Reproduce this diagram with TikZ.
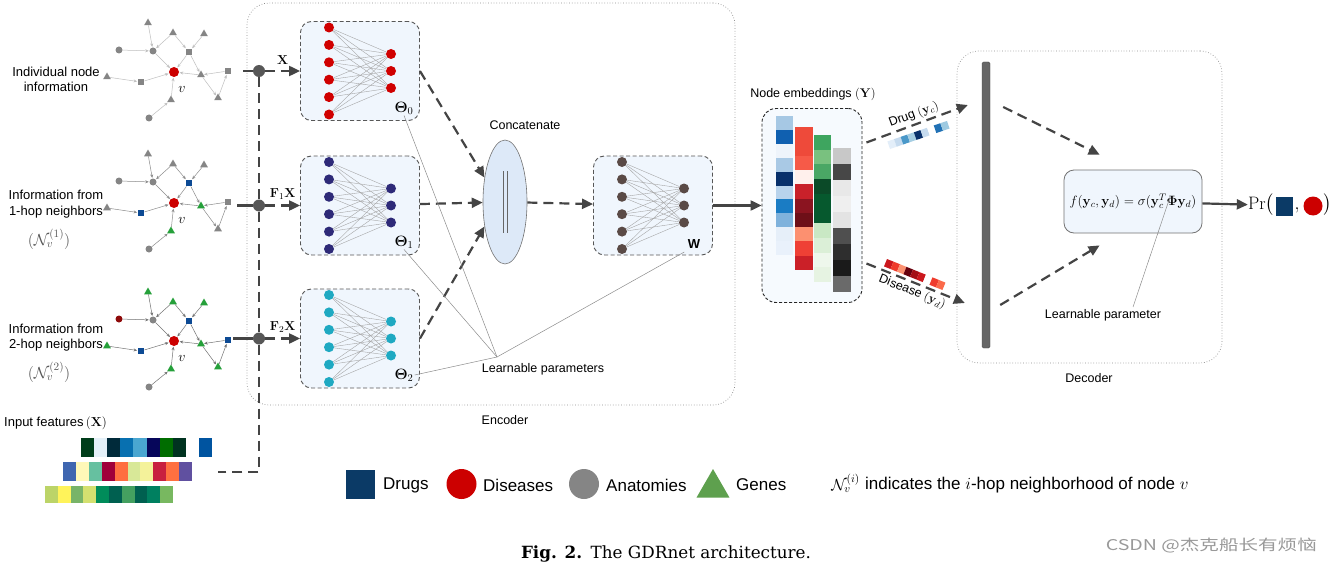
\documentclass[tikz,border=0pt]{standalone}
\usepackage{fix-cm}
\usepackage{amsmath,amssymb,bm}
\usepackage[no-math]{fontspec}
\setmainfont{Liberation Sans}
\newfontfamily\capfont{DejaVu Serif}
\newfontfamily\cjk{Noto Sans CJK SC}
\usetikzlibrary{shapes.geometric,arrows.meta,calc}

% colours
\definecolor{drugblue}{HTML}{0B3A66}
\definecolor{disred}{HTML}{CC0000}
\definecolor{anagray}{HTML}{858585}
\definecolor{genegreen}{HTML}{5EA04E}
\definecolor{flowgray}{HTML}{444444}
\definecolor{boxfill}{HTML}{F0F6FD}
\definecolor{catfill}{HTML}{DDE9F8}
\definecolor{nnred}{HTML}{D00000}
\definecolor{nnnavy}{HTML}{2E2A78}
\definecolor{nncyan}{HTML}{1FA9C2}
\definecolor{nnbrown}{HTML}{5A4A46}
\definecolor{gblue}{HTML}{0D4A94}
\definecolor{ggreen}{HTML}{25A03A}
\definecolor{gdred}{HTML}{8E0A0A}

\tikzset{
  flow/.style={draw=flowgray, line width=2.2pt, dash pattern=on 10pt off 6pt,
    -{Triangle[length=11pt,width=10pt]}},
  sarrow/.style={draw=flowgray, line width=2.2pt, -{Triangle[length=11pt,width=10pt]}},
  fdash/.style={draw=flowgray, line width=2.2pt, dash pattern=on 10pt off 6pt},
  thinline/.style={draw=black!45, line width=0.5pt},
  lab/.style={font=\fontsize{12.5}{15}\selectfont, inner sep=1pt},
  glab/.style={font=\fontsize{13}{15.5}\selectfont, inner sep=1pt, align=center},
  leg/.style={font=\fontsize{17}{20}\selectfont, inner sep=1pt},
  thlab/.style={font=\fontsize{15}{15}\selectfont, inner sep=1pt},
  nnbox/.style={draw=flowgray!90, dash pattern=on 4pt off 2.5pt, line width=0.9pt,
    rounded corners=11pt, fill=boxfill, minimum width=119pt, minimum height=99pt},
  neuron/.style={circle, inner sep=0pt, minimum size=10pt},
  nnedge/.style={draw=black!35, line width=0.4pt},
  container/.style={draw=black!45, dotted, line width=0.7pt, rounded corners=22pt},
  gci/.style={circle, inner sep=0pt, minimum size=7pt},
  gsq/.style={rectangle, inner sep=0pt, minimum size=6.5pt},
  gtri/.style={regular polygon, regular polygon sides=3, inner sep=0pt, minimum size=9pt},
  gedge/.style={line width=0.5pt, -{Stealth[length=3.5pt,width=3pt]}, shorten >=0.5pt},
  dot/.style={circle, fill=flowgray!90, inner sep=0pt, minimum size=12pt}
}

\begin{document}
\begin{tikzpicture}[x=1pt, y=-1pt]
  \useasboundingbox (0,0) rectangle (1332,567);
  \fill[white] (0,0) rectangle (1332,567);

  % encoder and decoder frames
  \node[container, minimum width=488pt, minimum height=402pt] (enc) at (491,204) {};
  \node[lab] (enct) at (505,420) {Encoder};
  \node[container, minimum width=265pt, minimum height=312pt] (dec) at (1089.5,207) {};
  \node[lab] (dect) at (1089,378) {Decoder};

  % the three small graphs
  \foreach \g/\cy/\csq/\ctri/\cout/\csr/\ccl/\ecol in {
      1/72/anagray/anagray/anagray/anagray/anagray/black!25,
      2/203/gblue/ggreen/anagray/anagray/anagray/black!45,
      3/341/gblue/ggreen/ggreen/gblue/gdred/black!55} {
    \begin{scope}[shift={(174,\cy)}]
      \node[gci, fill=disred, minimum size=10pt] (v\g) at (0,0) {};
      \node[font=\fontsize{14}{14}\selectfont] (vl\g) at (8,17) {$v$};
      \node[gtri, fill=\cout] (tl\g) at (-26,-49) {};
      \node[gtri, fill=\cout] (tm\g) at (-1,-39) {};
      \node[gtri, fill=\cout] (tr\g) at (30,-38) {};
      \node[gci, fill=\ccl] (cl\g) at (-55,-22) {};
      \node[gci, fill=anagray] (cu\g) at (-21,-21) {};
      \node[gsq, fill=\csq] (sur\g) at (15,-20) {};
      \node[gtri, fill=\ctri] (trt\g) at (27,3) {};
      \node[gsq, fill=\csr] (sr\g) at (54,-1) {};
      \node[gtri, fill=\cout] (tbr\g) at (44,26) {};
      \node[gtri, fill=\cout] (tfl\g) at (-67,5) {};
      \node[gsq, fill=\csq] (sl\g) at (-33,10) {};
      \node[gtri, fill=\ctri] (tb\g) at (-3,28) {};
      \node[gci, fill=anagray] (cb\g) at (-25,46) {};
      \foreach \a/\b in {tl/cu, tm/cu, tm/sur, tr/sur, cl/cu, cu/v, sur/v, sur/trt,
          trt/v, sr/trt, trt/tbr, tbr/sr, tfl/sl, sl/v, tb/v, cb/tb}
        \draw[gedge, draw=\ecol] (\a\g) -- (\b\g);
    \end{scope}
  }

  % labels on the left
  \node[glab] (t0) at (56,79.5) {Individual node\\information};
  \node[glab] (t1) at (56,204) {Information from\\1-hop neighbors};
  \node[glab, text=black!65, font=\fontsize{16}{16}\selectfont] (n1) at (49,239) {$(\mathcal{N}_v^{(1)})$};
  \node[glab] (t2) at (56,337.5) {Information from\\2-hop neighbors};
  \node[glab, text=black!65, font=\fontsize{16}{16}\selectfont] (n2) at (49,372) {$(\mathcal{N}_v^{(2)})$};
  \node[glab, anchor=west] (inp) at (3,423) {Input features$\,(\mathbf{X})$};

  % input feature rows
  \foreach \c [count=\i] in {003D1A,E4F0F8,002A3A,0870B0,4AA6D0,06065A,006D00,003320}
    {\definecolor{cell}{HTML}{\c}\fill[cell] ({81+(\i-1)*13.1},438) rectangle ++(13.1,19);}
  \fill[fill={rgb,255:red,0;green,84;blue,160}] (199,438) rectangle ++(13,19);
  \foreach \c [count=\i] in {3F66B0,FFF8B8,66C0A0,A0003A,FF6E40,D8E898,F4F29A,C8203F,FF7040,6050A0}
    {\definecolor{cell}{HTML}{\c}\fill[cell] ({63+(\i-1)*12.9},462) rectangle ++(12.9,19);}
  \foreach \c [count=\i] in {BCD468,FFF35A,78B468,D4E070,008C5A,006050,44A060,006050,008060,78B860}
    {\definecolor{cell}{HTML}{\c}\fill[cell] ({45+(\i-1)*12.8},486) rectangle ++(12.8,17);}

  % branching points
  \node[dot] (d0) at (259,71) {};
  \node[dot] (d1) at (259,205.5) {};
  \node[dot] (d2) at (259,338.5) {};
  \coordinate (g0e) at (243,71);
  \coordinate (g1e) at (237,205.5);
  \coordinate (g2e) at (233,338.5);
  \coordinate (corner) at (259,472);
  \coordinate (fin) at (218,472);
  \draw[draw=flowgray, line width=2.2pt] (g0e) -- (d0);
  \draw[draw=flowgray, line width=2.2pt] (g1e) -- (d1);
  \draw[draw=flowgray, line width=2.2pt] (g2e) -- (d2);
  \draw[fdash] (d0) -- (d1) -- (d2) -- (corner) -- (fin);

  % GCN branches
  \foreach \b/\bx/\by/\col in {0/300/71/nnred, 1/300/205.5/nnnavy, 2/300/338.5/nncyan, 3/593/205.5/nnbrown} {
    \node[nnbox] (box\b) at ({\bx+60},\by) {};
    \foreach \i in {1,...,6}
      \node[neuron, fill=\col] (l\b\i) at ({\bx+29},{\by+(\i-3.5)*17.4}) {};
    \foreach \j in {1,2,3}
      \node[neuron, fill=\col] (r\b\j) at ({\bx+91},{\by+(\j-2)*17}) {};
    \foreach \i in {1,...,6}
      \foreach \j in {1,2,3}
        \draw[nnedge] (l\b\i) -- (r\b\j);
  }
  \node[thlab] (th0) at (404,108) {$\boldsymbol{\Theta}_0$};
  \node[thlab] (th1) at (404,242) {$\boldsymbol{\Theta}_1$};
  \node[thlab] (th2) at (404,375) {$\boldsymbol{\Theta}_2$};
  \node[font=\fontsize{13}{13}\selectfont] (wl) at (694,244) {\textbf{W}};

  \draw[flow] (d0) -- node[above=2pt, font=\fontsize{13}{13}\selectfont] (lx0) {$\mathbf{X}$} (box0);
  \draw[flow] (d1) -- node[above=2pt, font=\fontsize{13}{13}\selectfont] (lx1) {$\mathbf{F}_1\mathbf{X}$} (box1);
  \draw[flow] (d2) -- node[above=2pt, font=\fontsize{13}{13}\selectfont] (lx2) {$\mathbf{F}_2\mathbf{X}$} (box2);

  % concatenation
  \node[ellipse, draw=black!55, fill=catfill, line width=0.6pt, minimum width=44pt, minimum height=124pt] (cat) at (505,202) {};
  \node[lab] (catt) at (525,125) {Concatenate};
  \draw[black!60, line width=0.6pt] ($(cat.center)+(-2,-31)$) -- ++(0,62);
  \draw[black!60, line width=0.6pt] ($(cat.center)+(2,-31)$) -- ++(0,62);
  \draw[flow] (box0.east) -- (cat.130);
  \draw[flow] (box1) -- (cat);
  \draw[flow] (box2.east) -- (cat.230);
  \draw[flow] (cat) -- (box3);

  % learnable parameters
  \coordinate (lp) at (497,357);
  \node[lab] (lpt) at (543,369) {Learnable parameters};
  \draw[thinline] (lp) -- (th0.south);
  \draw[thinline] (lp) -- (th1.south);
  \draw[thinline] (lp) -- (th2.east);
  \draw[thinline] (lp) -- (wl.south west);

  % node embeddings
  \node[draw=black!85, dash pattern=on 3pt off 2pt, line width=0.9pt, rounded corners=14pt,
    fill=boxfill!60, minimum width=100pt, minimum height=194pt] (emb) at (812,205.5) {};
  \node[lab] (embt) at (813,94) {Node embeddings $(\mathbf{Y})$};
  \foreach \c [count=\i] in {A6C8E4,1060B0,EEF4FB,A9C9E5,08306B,B8D3EC,1A7CC4,7FB2DC,E6EFF9,E9F1FB}
    {\definecolor{cell}{HTML}{\c}\fill[cell] (776,{116+(\i-1)*13.9}) rectangle ++(17,13.9);}
  \foreach \c [count=\i] in {EE4A3A,EE4A3A,F65A48,FFF0EC,C9212A,8B1420,6E0F18,FC9070,EF4035,CB2028}
    {\definecolor{cell}{HTML}{\c}\fill[cell] (795,{127+(\i-1)*14.3}) rectangle ++(18,14.3);}
  \foreach \c [count=\i] in {3EA55F,79C17F,4AA765,0B4A28,06592E,06592E,C9E8C4,DBEFD7,EEF7EC,E6F3E2}
    {\definecolor{cell}{HTML}{\c}\fill[cell] (814,{135+(\i-1)*14.7}) rectangle ++(17,14.7);}
  \foreach \c [count=\i] in {C8C8C8,474747,E8E8E8,EFEFEF,E3E3E3,4F4F4F,2E2E2E,1A1A1A,6A6A6A}
    {\definecolor{cell}{HTML}{\c}\fill[cell] (833,{148+(\i-1)*16}) rectangle ++(18,16);}
  \draw[sarrow] (box3) -- (emb);

  % decoder
  \node[draw=black!70, fill=black!60, rounded corners=1.5pt, minimum width=8pt, minimum height=286pt, inner sep=0pt] (bar) at (986,205) {};
  \draw[flow] ($(emb.east)+(4,-63)$) -- node[above=1pt, sloped, lab] (drugt) {Drug $(\mathbf{y}_c)$} ($(bar.west)+(-14,-100)$);
  \draw[flow] ($(emb.east)+(4,58)$) -- node[below=1pt, sloped, lab] (dist) {Disease $(\mathbf{y}_d)$} ($(bar.west)+(-17,98)$);
  \begin{scope}[shift={(890,149)}, rotate=19]
    \foreach \c [count=\i] in {E3EEF9,C6DBEF,4A98C9,A6CEE3,08306B,C6DBEF,FFFFFF,2171B5,9ECAE1}
      {\definecolor{cell}{HTML}{\c}\fill[cell] ({(\i-1)*7},0) rectangle ++(7,-8);}
  \end{scope}
  \begin{scope}[shift={(887,259)}, rotate=-22]
    \foreach \c [count=\i] in {CB181D,EF3B2C,FC9272,67000D,A50F15,CB181D,FFFFFF,EF3B2C,FB6A4A}
      {\definecolor{cell}{HTML}{\c}\fill[cell] ({(\i-1)*7},0) rectangle ++(7,8);}
  \end{scope}

  \node[draw=black!55, fill=boxfill, line width=0.8pt, rounded corners=10pt, minimum width=138pt,
    minimum height=63pt, inner sep=0pt, font=\fontsize{13.5}{15}\selectfont] (fbox) at (1133,201.5)
    {$f(\mathbf{y}_c,\mathbf{y}_d)=\sigma(\mathbf{y}_c^T\boldsymbol{\Phi}\mathbf{y}_d)$};
  \draw[flow] ($(bar.east)+(13,-98)$) -- ($(fbox.north west)+(36,-15)$);
  \draw[flow] ($(bar.east)+(10,100)$) -- ($(fbox.south west)+(36,12)$);
  \coordinate (phi) at (1170,197);
  \node[lab] (dlpt) at (1103,315) {Learnable parameter};
  \coordinate (dlp) at (1133,307);
  \draw[thinline] (dlp) -- (phi);

  % output
  \node[font=\fontsize{18}{20}\selectfont, inner sep=0pt] (pr) at (1261,205) {$\mathrm{Pr}\big($};
  \node[fill=drugblue, minimum width=17pt, minimum height=19pt, inner sep=0pt] (prsq) at (1284.5,206.5) {};
  \node[font=\fontsize{18}{20}\selectfont, inner sep=0pt] (prc) at (1297,210) {$,$};
  \node[circle, fill=disred, minimum size=19pt, inner sep=0pt] (prci) at (1313,206) {};
  \node[font=\fontsize{18}{20}\selectfont, inner sep=0pt] (prr) at (1328,205) {$\big)$};
  \draw[sarrow] (fbox) -- (pr);

  % legend
  \node[fill=drugblue, minimum size=29pt, inner sep=0pt] (lsq) at (360.5,484.5) {};
  \node[leg, anchor=west] (ldr) at (382,485) {Drugs};
  \node[circle, fill=disred, minimum size=30pt, inner sep=0pt] (lci) at (461.5,484) {};
  \node[leg, anchor=west] (ldi) at (482,485) {Diseases};
  \node[circle, fill=anagray, minimum size=30pt, inner sep=0pt] (lan) at (584,484) {};
  \node[leg, anchor=west] (lant) at (605,485) {Anatomies};
  \node[regular polygon, regular polygon sides=3, fill=genegreen, minimum size=38pt, inner sep=0pt] (lge) at (713,488) {};
  \node[leg, anchor=west] (lget) at (735,485) {Genes};
  \node[leg, anchor=east, font=\fontsize{16}{18}\selectfont] (lnv) at (861,483) {$\mathcal{N}_v^{(i)}$};
  \node[leg, anchor=west] (lind) at (864,485) {indicates the $i$-hop neighborhood of node $v$};

  % caption
  \node[font=\capfont\fontsize{16.8}{20}\selectfont] (cap) at (666,554) {\textbf{Fig. 2.}\enspace The GDRnet architecture.};
  \node[anchor=east, text=black!40, inner sep=0pt] (wm) at (1317,546) {\resizebox{211pt}{12.5pt}{\cjk CSDN @杰克船长有烦恼}};
\end{tikzpicture}
\end{document}
